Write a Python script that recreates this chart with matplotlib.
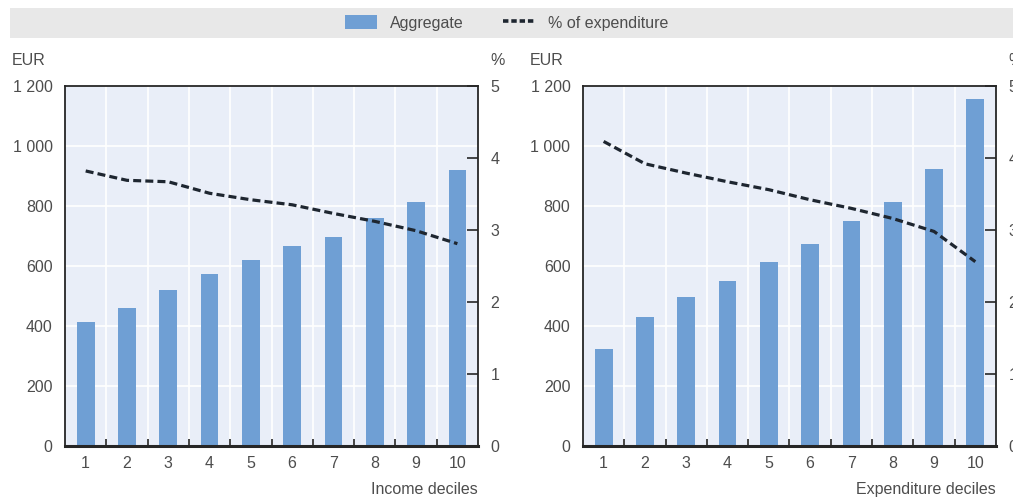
import matplotlib
matplotlib.use("Agg")
import matplotlib.pyplot as plt
from matplotlib import font_manager
from matplotlib.patches import Patch
from matplotlib.lines import Line2D
from matplotlib.ticker import FuncFormatter

deciles = list(range(1, 11))
income_aggregate = [413, 461, 519, 572, 621, 666, 697, 759, 812, 919]
income_share = [3.82, 3.69, 3.67, 3.51, 3.42, 3.35, 3.23, 3.12, 2.99, 2.81]
expend_aggregate = [323, 430, 497, 550, 612, 674, 750, 812, 923, 1157]
expend_share = [4.23, 3.92, 3.79, 3.67, 3.56, 3.42, 3.30, 3.16, 2.98, 2.56]
eur_ticks = [0, 200, 400, 600, 800, 1000, 1200]
pct_ticks = [0, 1, 2, 3, 4, 5]

names = {f.name for f in font_manager.fontManager.ttflist}
family = "Liberation Sans Narrow" if "Liberation Sans Narrow" in names else "Liberation Sans"
plt.rcParams["font.family"] = [family, "DejaVu Sans"]

BAR = "#6f9fd4"
BG = "#e9eef8"
TXT = "#4d4d4d"
SPINE = "#262626"
LINE = "#1e2630"
FS = 11.5


def thousands(v, _):
    return f"{int(v):,}".replace(",", " ")


def panel(fig, rect, aggregate, share, xlabel):
    ax = fig.add_axes(rect)
    ax.set_facecolor(BG)
    ax.bar(deciles, aggregate, width=0.43, color=BAR, zorder=2)
    ax.set_xlim(0.5, 10.5)
    ax.set_ylim(0, 1200)
    ax.set_yticks(eur_ticks)
    ax.yaxis.set_major_formatter(FuncFormatter(thousands))
    ax.set_xticks(deciles)
    ax.set_xticks([d + 0.5 for d in deciles[:-1]], minor=True)
    ax.tick_params(axis="x", which="major", length=0, labelsize=FS, labelcolor=TXT, pad=7)
    ax.tick_params(axis="x", which="minor", direction="in", length=5, width=1.2, color=SPINE)
    ax.tick_params(axis="y", length=0, labelsize=FS, labelcolor=TXT, pad=9)
    ax.grid(True, axis="y", color="white", linewidth=1.2, zorder=0)
    ax.grid(True, axis="x", which="minor", color="white", linewidth=1.2, zorder=0)
    ax.set_axisbelow(True)
    for s in ax.spines.values():
        s.set_color(SPINE)
        s.set_linewidth(1.3)
    ax.spines["bottom"].set_linewidth(2.2)

    ax2 = ax.twinx()
    ax2.plot(deciles, share, color=LINE, linewidth=2.3, dashes=(2.5, 1.3), zorder=3)
    ax2.set_ylim(0, 5)
    ax2.set_yticks(pct_ticks)
    ax2.tick_params(axis="y", direction="in", length=8, width=1.2, color=SPINE,
                    labelsize=FS, labelcolor=TXT, pad=9)
    for s in ax2.spines.values():
        s.set_visible(False)

    ax.text(-0.13, 1.05, "EUR", transform=ax.transAxes, fontsize=FS, color=TXT, va="bottom")
    ax.text(1.03, 1.05, "%", transform=ax.transAxes, fontsize=FS, color=TXT, va="bottom")
    ax.text(1.0, -0.122, xlabel, transform=ax.transAxes, fontsize=FS, color=TXT,
            ha="right", va="center")
    return ax


fig = plt.figure(figsize=(10.13, 5), dpi=100)

band = fig.add_axes([0.01, 0.924, 0.99, 0.06])
band.set_facecolor("#e8e8e8")
band.set_xticks([])
band.set_yticks([])
for s in band.spines.values():
    s.set_visible(False)

handles = [Patch(facecolor=BAR, edgecolor="none"),
           Line2D([0], [0], color=LINE, linewidth=2.6, dashes=(1.5, 0.8))]
fig.legend(handles, ["Aggregate", "% of expenditure"], loc="center", bbox_to_anchor=(0.5, 0.954),
           ncol=2, frameon=False, fontsize=FS, labelcolor=TXT, handlelength=2.0,
           handleheight=1.0, columnspacing=2.5, handletextpad=0.8)

panel(fig, [0.0642, 0.108, 0.4077, 0.72], income_aggregate, income_share, "Income deciles")
panel(fig, [0.5755, 0.108, 0.4077, 0.72], expend_aggregate, expend_share, "Expenditure deciles")

fig.savefig("out.png", dpi=100)
